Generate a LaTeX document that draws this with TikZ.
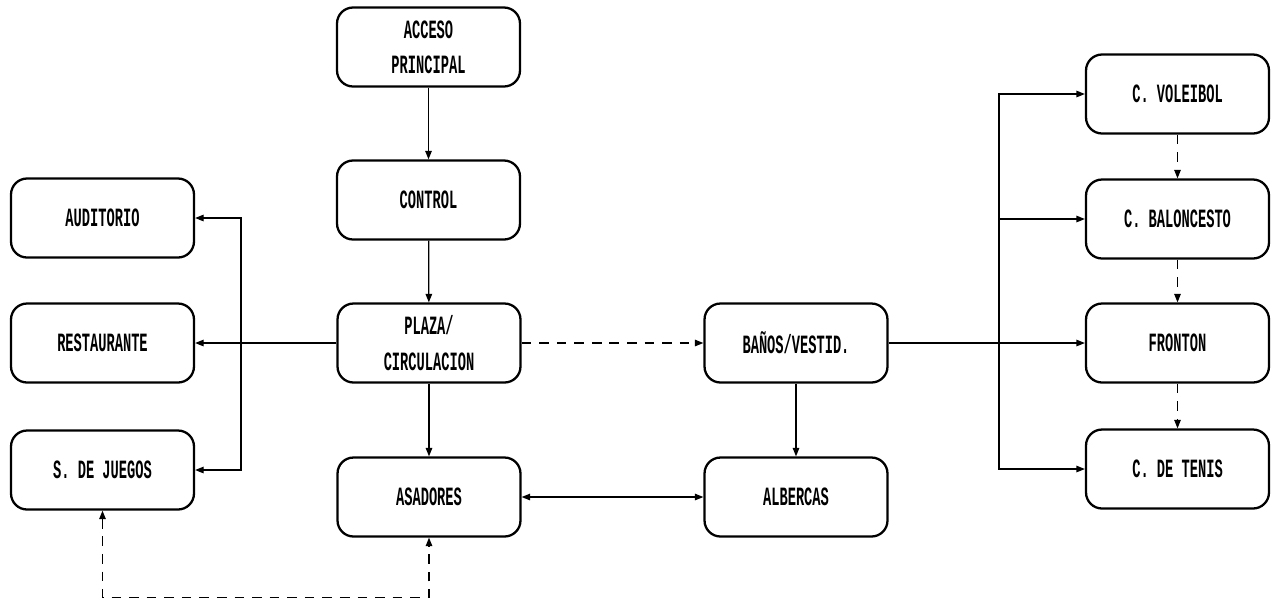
\documentclass[tikz,border=0pt]{standalone}
\usepackage{fontspec}
\usetikzlibrary{arrows.meta}
\newfontfamily\plotterfont[FakeStretch=0.52]{Liberation Mono}
\tikzset{
  zona/.style={draw, line width=1.3pt, rounded corners=0.32cm, minimum width=3.66cm,
    minimum height=1.58cm, align=center, font=\plotterfont\bfseries\fontsize{15}{20}\selectfont},
  flujo/.style={line width=0.7pt, -{Triangle[length=1.7mm,width=1.3mm]}},
  liga/.style={flujo, dash pattern=on 5.5pt off 4.5pt}
}
\begin{document}
\begin{tikzpicture}[x=0.02cm, y=-0.02cm]
  \useasboundingbox (0,0) rectangle (1273,600);
  % columna central
  \node[zona] (acceso) at (428.5,47) {ACCESO\\PRINCIPAL};
  \node[zona] (control) at (428.5,200) {CONTROL};
  \node[zona] (plaza) at (429,343) {PLAZA/\\CIRCULACION};
  \node[zona] (asadores) at (429,497) {ASADORES};
  % columna izquierda
  \node[zona] (auditorio) at (102.5,218) {AUDITORIO};
  \node[zona] (restaurante) at (102.5,343) {RESTAURANTE};
  \node[zona] (juegos) at (102.5,470) {S. DE JUEGOS};
  % banos y albercas
  \node[zona] (banos) at (796,343) {BAÑOS/VESTID.};
  \node[zona] (albercas) at (796,497) {ALBERCAS};
  % canchas
  \node[zona] (voleibol) at (1177.5,94) {C. VOLEIBOL};
  \node[zona] (baloncesto) at (1177.5,219) {C. BALONCESTO};
  \node[zona] (fronton) at (1177.5,343) {FRONTON};
  \node[zona] (tenis) at (1177.5,469) {C. DE TENIS};
  \coordinate (izq) at (241,343);
  \coordinate (der) at (999,343);

  \draw[flujo] (acceso) -- (control);
  \draw[flujo] (control) -- (plaza);
  \draw[flujo] (plaza) -- (asadores);
  \draw[flujo] (plaza) -- (restaurante);
  \draw[flujo] (izq) |- (auditorio);
  \draw[flujo] (izq) |- (juegos);
  \draw[liga] (plaza) -- (banos);
  \draw[flujo] (banos) -- (albercas);
  \draw[flujo, {Triangle[length=1.7mm,width=1.3mm]}-{Triangle[length=1.7mm,width=1.3mm]}] (asadores) -- (albercas);
  \draw[liga, {Triangle[length=1.7mm,width=1.3mm]}-{Triangle[length=1.7mm,width=1.3mm]}] (juegos.south) -- ++(0,87) -| (asadores.south);
  \draw[flujo] (banos) -- (fronton);
  \draw[flujo] (der) |- (voleibol);
  \draw[flujo] (der) |- (baloncesto);
  \draw[flujo] (der) |- (tenis);
  \draw[liga] (voleibol) -- (baloncesto);
  \draw[liga] (baloncesto) -- (fronton);
  \draw[liga] (fronton) -- (tenis);
\end{tikzpicture}
\end{document}
